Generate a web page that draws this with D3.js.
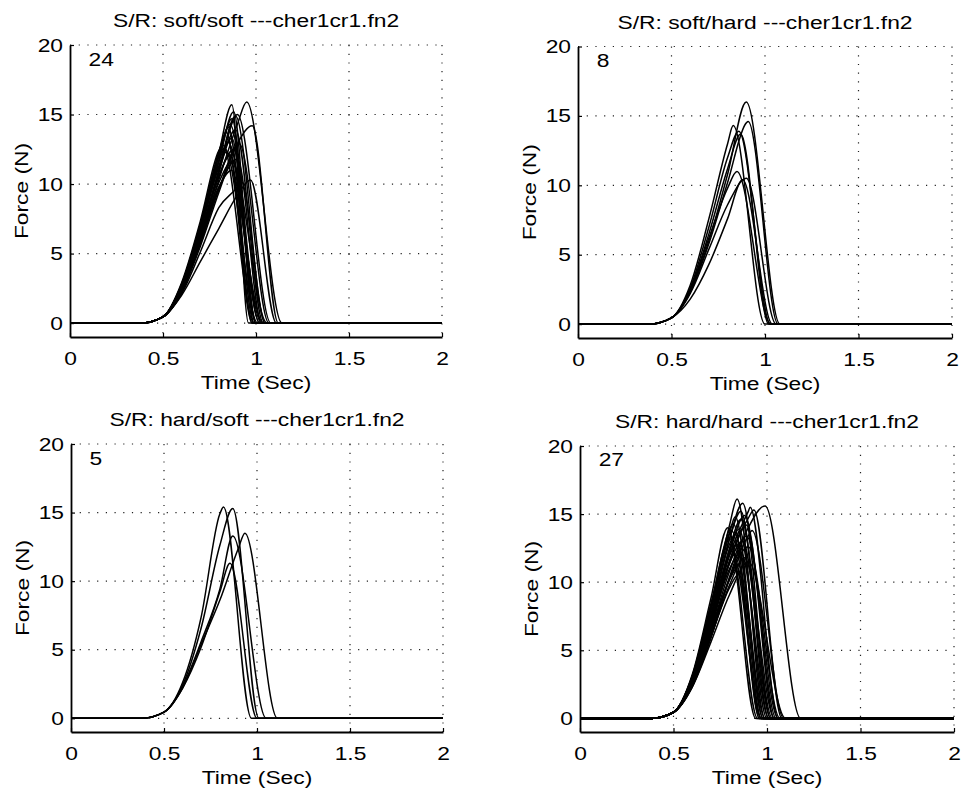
<!DOCTYPE html>
<html>
<head>
<meta charset="utf-8">
<script src="https://cdn.jsdelivr.net/npm/d3@7"></script>
<style>
body{margin:0;background:#fff;}
svg text{font-family:"Liberation Sans",Arial,Helvetica,sans-serif;fill:#000;}
</style>
</head>
<body>
<svg id="chart" width="963" height="794"></svg>
<script>

var titles = [
	"S/R: soft/soft ---cher1cr1.fn2",
	"S/R: soft/hard ---cher1cr1.fn2",
	"S/R: hard/soft ---cher1cr1.fn2",
	"S/R: hard/hard ---cher1cr1.fn2"
];
var counts = ["24", "8", "5", "27"];
var xTicks = [0, 0.5, 1, 1.5, 2];
var yTicks = [0, 5, 10, 15, 20];
var xLabel = "Time (Sec)";
var yLabel = "Force (N)";

// every trace starts flat, these points are shared by all of them
var onset = [[0, 0], [0.38, 0], [0.5, 0.45]];
// force is read at these times on the rising side (only while before the peak)
var riseTimes = [0.6, 0.7, 0.8, 0.9];

// each trace: [peak time, peak force, end time, force at 0.6, 0.7, 0.8, 0.9 s]
var softSoft = [
	[0.87, 15.7, 0.96, 2.7, 6.9, 12.2],
	[0.95, 15.9, 1.14, 2.3, 5.9, 10.3, 14.3],
	[0.98, 14.2, 1.12, 2.2, 5.5, 9.4, 12.9],
	[0.88, 15.2, 0.99, 2.6, 6.6, 11.6],
	[0.87, 14.7, 1.00, 2.6, 6.7, 11.7],
	[0.86, 14.3, 1.02, 2.7, 6.9, 12.0],
	[0.89, 14.9, 1.05, 2.5, 6.2, 11.0],
	[0.84, 13.7, 0.98, 2.8, 7.1, 12.3],
	[0.82, 12.8, 0.99, 2.9, 7.3, 12.4],
	[0.83, 12.6, 1.01, 2.8, 7.0, 12.0],
	[0.85, 13.0, 1.03, 2.7, 6.8, 11.6],
	[0.84, 12.3, 1.04, 2.6, 6.6, 11.2],
	[0.86, 12.1, 1.02, 2.5, 6.3, 10.6],
	[0.87, 11.6, 1.06, 2.4, 6.0, 10.1],
	[0.88, 12.5, 1.00, 2.5, 6.2, 10.5],
	[0.90, 11.8, 1.03, 2.3, 5.8, 9.7],
	[0.92, 10.2, 1.05, 2.1, 5.1, 8.3, 9.8],
	[0.97, 10.3, 1.11, 2.0, 4.4, 6.8, 9.2],
	[0.87, 13.3, 1.00, 2.6, 6.6, 11.3],
	[0.89, 13.9, 1.04, 2.5, 6.3, 10.9],
	[0.85, 14.1, 0.99, 2.7, 7.0, 12.1],
	[0.90, 15.0, 1.08, 2.4, 6.1, 10.8],
	[0.87, 11.0, 0.98, 2.3, 5.9, 9.8],
	[0.91, 12.9, 1.07, 2.3, 5.7, 9.6]
];

var softHard = [
	[0.90, 16.0, 1.08, 2.4, 6.0, 10.8],
	[0.91, 14.6, 1.07, 2.3, 5.8, 10.2, 14.5],
	[0.83, 14.3, 1.00, 2.8, 7.6, 13.0],
	[0.86, 13.9, 1.03, 2.6, 7.0, 12.0],
	[0.85, 11.0, 1.03, 2.4, 6.2, 9.8],
	[0.90, 10.5, 1.06, 2.2, 5.4, 8.6],
	[0.88, 10.4, 1.04, 1.8, 4.3, 7.6],
	[0.87, 13.7, 1.02, 2.5, 6.5, 11.2]
];

var hardSoft = [
	[0.82, 15.4, 0.97, 2.6, 7.4, 14.9],
	[0.87, 15.3, 1.01, 2.4, 6.6, 12.6],
	[0.87, 13.3, 1.05, 2.3, 5.6, 9.4],
	[0.935, 13.5, 1.11, 2.2, 5.4, 8.6, 12.4],
	[0.855, 11.3, 1.00, 2.2, 5.2, 9.2]
];

var hardHard = [
	[0.84, 16.1, 0.99, 3.0, 8.0, 14.2],
	[0.87, 15.8, 1.02, 2.8, 7.4, 13.2],
	[0.91, 15.5, 1.06, 2.6, 6.8, 12.0, 15.2],
	[0.99, 15.6, 1.18, 2.3, 5.9, 10.4, 14.0],
	[0.93, 15.3, 1.08, 2.5, 6.5, 11.5, 14.7],
	[0.82, 14.3, 0.96, 3.1, 8.3, 13.9],
	[0.79, 14.0, 0.94, 3.2, 8.8],
	[0.81, 13.8, 0.97, 3.0, 8.1, 13.6],
	[0.83, 13.5, 0.99, 2.9, 7.6, 12.8],
	[0.85, 13.9, 1.00, 2.8, 7.3, 12.4],
	[0.86, 14.6, 1.03, 2.8, 7.2, 12.5],
	[0.88, 14.9, 1.05, 2.7, 7.0, 12.2],
	[0.84, 12.8, 0.98, 2.8, 7.4, 12.0],
	[0.86, 12.2, 1.01, 2.6, 6.8, 11.0],
	[0.85, 11.2, 0.97, 2.5, 6.4, 10.2],
	[0.85, 10.6, 0.96, 2.4, 6.0, 9.6],
	[0.88, 11.8, 1.04, 2.4, 6.0, 9.8],
	[0.90, 12.6, 1.07, 2.4, 6.2, 10.2],
	[0.89, 13.4, 1.06, 2.5, 6.4, 10.8],
	[0.87, 13.0, 1.02, 2.6, 6.8, 11.4],
	[0.80, 13.2, 0.95, 3.1, 8.4],
	[0.83, 14.8, 0.98, 3.0, 7.9, 13.6],
	[0.92, 13.8, 1.09, 2.4, 6.0, 10.3, 13.4],
	[0.90, 11.5, 1.10, 2.3, 5.6, 9.1],
	[0.86, 15.2, 1.01, 2.9, 7.6, 13.2],
	[0.82, 12.0, 0.97, 2.7, 7.2, 11.4],
	[0.89, 14.2, 1.04, 2.6, 6.7, 11.6]
];

var traces = [softSoft, softHard, hardSoft, hardHard];

// axes boxes in page pixels
var boxes = [
	{left: 70, right: 442, top: 45, bottom: 337},
	{left: 578, right: 952, top: 46.5, bottom: 338},
	{left: 71, right: 443, top: 444, bottom: 732},
	{left: 580, right: 954, top: 446, bottom: 732}
];

// the scanned lettering is wider than Arial, so stretch it sideways
var fontSize = 19;
var stretch = 1.2;

var svg = d3.select("#chart");

function tracePoints(tr){
	var pts = onset.slice();
	for (var i = 0; i < riseTimes.length; i++){
		var f = tr[3 + i];
		if (f != null && riseTimes[i] < tr[0])
			pts.push([riseTimes[i], f]);
	}
	pts.push([tr[0], tr[1]]);
	pts.push([tr[2], 0]);
	pts.push([2, 0]);
	return pts;
}

function label(g, tx, ty, rot, anchor, str){
	var t = g.append("text")
		.attr("transform", "translate(" + tx + "," + ty + ")" + (rot ? " rotate(" + rot + ")" : "") + " scale(" + stretch + ",1)")
		.attr("text-anchor", anchor)
		.attr("font-size", fontSize)
		.text(str);
	return t;
}

function drawPanel(i){
	var b = boxes[i];
	var x = d3.scaleLinear().domain([0, 2]).range([b.left, b.right]);
	var y = d3.scaleLinear().domain([-1, 20]).range([b.bottom, b.top]);
	var g = svg.append("g");

	// dotted grid
	g.selectAll(".gx").data(xTicks.slice(1)).enter().append("line")
		.attr("x1", function(d){ return x(d); }).attr("x2", function(d){ return x(d); })
		.attr("y1", y(20)).attr("y2", y(-1))
		.attr("stroke", "#222").attr("stroke-width", 1.2)
		.attr("stroke-dasharray", "1.2 7.5");
	g.selectAll(".gy").data(yTicks).enter().append("line")
		.attr("x1", x(0)).attr("x2", x(2))
		.attr("y1", function(d){ return y(d); }).attr("y2", function(d){ return y(d); })
		.attr("stroke", "#222").attr("stroke-width", 1.2)
		.attr("stroke-dasharray", "1.2 7.5");

	var line = d3.line()
		.x(function(d){ return x(d[0]); })
		.y(function(d){ return y(d[1]); })
		.curve(d3.curveMonotoneX);

	g.selectAll(".trace").data(traces[i]).enter().append("path")
		.attr("d", function(tr){ return line(tracePoints(tr)); })
		.attr("fill", "none")
		.attr("stroke", "#000")
		.attr("stroke-width", 1.5);

	var yAxis = d3.axisLeft(y).tickValues(yTicks).tickFormat(d3.format("d"))
		.tickSizeInner(-4).tickSizeOuter(0).tickPadding(7);
	var xAxis = d3.axisBottom(x).tickValues(xTicks).tickFormat(function(d){ return String(d); })
		.tickSizeInner(-4).tickSizeOuter(0).tickPadding(15);

	var ya = g.append("g").attr("transform", "translate(" + b.left + ",0)").call(yAxis);
	var xa = g.append("g").attr("transform", "translate(0," + b.bottom + ")").call(xAxis);
	[ya, xa].forEach(function(a){
		a.select(".domain").attr("stroke", "#000").attr("stroke-width", 1.8);
		a.selectAll(".tick line").attr("stroke", "#000").attr("stroke-width", 1.2);
		a.selectAll(".tick text").attr("font-size", fontSize).attr("font-family", null)
			.style("fill", "#000").attr("transform", "scale(" + stretch + ",1)");
	});
	ya.selectAll(".tick text").attr("x", -7 / stretch);

	label(g, (b.left + b.right) / 2, b.top - 18, 0, "middle", titles[i]);
	label(g, (b.left + b.right) / 2, b.bottom + 52, 0, "middle", xLabel);
	label(g, b.left - 42, (b.top + b.bottom) / 2, -90, "middle", yLabel);
	label(g, x(0.1), y(19), 0, "start", counts[i]).attr("dominant-baseline", "central");
}

for (var i = 0; i < 4; i++)
	drawPanel(i);

</script>
</body>
</html>
